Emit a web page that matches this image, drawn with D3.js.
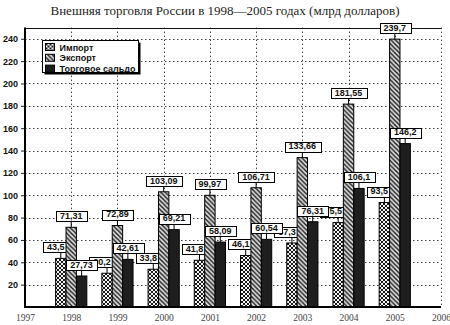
<!DOCTYPE html>
<html>
<head>
<meta charset="utf-8">
<script src="https://cdn.jsdelivr.net/npm/d3@7"></script>
<style>
  html, body { margin: 0; padding: 0; background: #fff; }
  svg { display: block; }
</style>
</head>
<body>
<svg id="chart" width="450" height="325"></svg>
<script>
// Foreign trade of Russia, 1998–2005, billion USD
const years = [1998, 1999, 2000, 2001, 2002, 2003, 2004, 2005];
const importVals = [43.5, 30.2, 33.8, 41.8, 46.1, 57.3, 75.5, 93.5];
const exportVals = [71.31, 72.89, 103.09, 99.97, 106.71, 133.66, 181.55, 239.7];
const saldoVals = [27.73, 42.61, 69.21, 58.09, 60.54, 76.31, 106.1, 146.2];
const seriesNames = ["Импорт", "Экспорт", "Торговое сальдо"];
const yTickValues = [20, 40, 60, 80, 100, 120, 140, 160, 180, 200, 220, 240];
const xTickValues = [1997, 1998, 1999, 2000, 2001, 2002, 2003, 2004, 2005, 2006];
const titleText = "Внешняя торговля России в 1998\u20142005 годах (млрд долларов)";

const svg = d3.select("#chart");
const SANS = "'Liberation Sans', Arial, sans-serif";
const SERIF = "'Liberation Serif', 'Times New Roman', serif";

const plot = { left: 25, right: 441, top: 27.6, bottom: 307 };
const x = d3.scaleLinear().domain([1997, 2006]).range([plot.left, plot.right]);
const y = d3.scaleLinear().domain([0, 250]).range([plot.bottom, plot.top]);
const bw = 10.4;

// fill patterns
const defs = svg.append("defs");
const cross = defs.append("pattern").attr("id", "pCross")
  .attr("patternUnits", "userSpaceOnUse").attr("width", 4).attr("height", 4);
cross.append("rect").attr("width", 4).attr("height", 4).attr("fill", "#f4f4f4");
cross.append("path").attr("d", "M0,0L4,4M4,0L0,4M-1,1L1,-1M3,5L5,3M-1,3L1,5M3,-1L5,1")
  .attr("stroke", "#000").attr("stroke-width", 0.9);

const diag = defs.append("pattern").attr("id", "pDiag")
  .attr("patternUnits", "userSpaceOnUse").attr("width", 4.5).attr("height", 4.5);
diag.append("rect").attr("width", 4.5).attr("height", 4.5).attr("fill", "#dcdcdc");
diag.append("path").attr("d", "M-1,-1L5.5,5.5M-1,3.5L1,5.5M3.5,-1L5.5,1")
  .attr("stroke", "#1a1a1a").attr("stroke-width", 1.4);

const fills = ["url(#pCross)", "url(#pDiag)", "#1e1e1e"];

// title
svg.append("text")
  .attr("x", 225).attr("y", 15)
  .attr("text-anchor", "middle")
  .attr("font-family", SERIF).attr("font-size", 13).attr("fill", "#222")
  .text(titleText);

// grid
const grid = svg.append("g")
  .attr("stroke", "#444").attr("stroke-width", 1).attr("stroke-dasharray", "1.5,2.5");
grid.selectAll("line.h").data(yTickValues).join("line")
  .attr("x1", plot.left).attr("x2", plot.right)
  .attr("y1", d => Math.round(y(d)) + 0.5).attr("y2", d => Math.round(y(d)) + 0.5);
grid.selectAll("line.v").data(xTickValues.slice(1)).join("line")
  .attr("x1", d => Math.round(x(d)) + 0.5).attr("x2", d => Math.round(x(d)) + 0.5)
  .attr("y1", plot.top).attr("y2", plot.bottom);

// frame top
svg.append("line")
  .attr("x1", plot.left).attr("x2", plot.right)
  .attr("y1", Math.round(plot.top) + 0.5).attr("y2", Math.round(plot.top) + 0.5)
  .attr("stroke", "#111").attr("stroke-width", 1);

// y axis
const yAxis = d3.axisLeft(y).tickValues(yTickValues).tickSize(4).tickPadding(3);
const gy = svg.append("g").attr("transform", `translate(${plot.left},0)`).call(yAxis);
gy.select(".domain").remove();
gy.selectAll(".tick line").attr("stroke", "#222");
gy.selectAll(".tick text")
  .attr("font-family", SANS).attr("font-size", 9).attr("font-weight", "bold").attr("fill", "#111");

// x axis
const xAxis = d3.axisBottom(x).tickValues(xTickValues).tickSize(0).tickPadding(7)
  .tickFormat(d3.format("d"));
const gx = svg.append("g").attr("transform", `translate(0,${plot.bottom})`).call(xAxis);
gx.select(".domain").remove();
gx.selectAll(".tick text")
  .attr("font-family", SERIF).attr("font-size", 9.5).attr("fill", "#444");

// bars and value labels, drawn series by series
const series = [importVals, exportVals, saldoVals];
const offsets = [-1.5, -0.5, 0.5];
const labelShift = [-5, 0, 0];
const fmt = v => String(v).replace(".", ",");

series.forEach((vals, si) => {
  const g = svg.append("g");
  const data = years.map((yr, i) => ({ yr, v: vals[i] }));
  g.selectAll("rect.bar").data(data).join("rect")
    .attr("x", d => x(d.yr) + offsets[si] * bw)
    .attr("y", d => y(d.v))
    .attr("width", bw)
    .attr("height", d => y(0) - y(d.v))
    .attr("fill", fills[si])
    .attr("stroke", "#000").attr("stroke-width", 1);

  const lg = g.selectAll("g.lab").data(data).join("g");
  lg.each(function (d) {
    const sel = d3.select(this);
    const bx = x(d.yr) + (offsets[si] + 0.5) * bw;
    const top = y(d.v);
    const cx = bx + labelShift[si];
    sel.append("line")
      .attr("x1", bx).attr("x2", bx)
      .attr("y1", top).attr("y2", top - 6)
      .attr("stroke", "#000").attr("stroke-width", 1);
    const r = sel.append("rect");
    const t = sel.append("text")
      .attr("x", cx).attr("y", top - 8.2)
      .attr("text-anchor", "middle")
      .attr("font-family", SANS).attr("font-size", 9).attr("font-weight", "bold")
      .attr("fill", "#111")
      .text(fmt(d.v));
    const w = t.node().getComputedTextLength() + 8;
    r.attr("x", Math.round(cx - w / 2) + 0.5).attr("y", Math.round(top - 16) + 0.5)
      .attr("width", Math.round(w)).attr("height", 10)
      .attr("fill", "#fff").attr("stroke", "#000").attr("stroke-width", 1);
  });
});

// axis lines
svg.append("line")
  .attr("x1", plot.left).attr("x2", plot.left)
  .attr("y1", plot.top).attr("y2", plot.bottom + 1)
  .attr("stroke", "#000").attr("stroke-width", 2);
svg.append("line")
  .attr("x1", plot.left - 1).attr("x2", plot.right)
  .attr("y1", plot.bottom).attr("y2", plot.bottom)
  .attr("stroke", "#000").attr("stroke-width", 2);

// legend
const leg = svg.append("g").attr("transform", "translate(42.5,40.5)");
leg.append("rect").attr("x", 2).attr("y", 2).attr("width", 96).attr("height", 32).attr("fill", "#000");
leg.append("rect").attr("width", 96).attr("height", 32).attr("fill", "#fff")
  .attr("stroke", "#000").attr("stroke-width", 1);
seriesNames.forEach((name, i) => {
  const ry = 3 + i * 10.8;
  leg.append("rect").attr("x", 3).attr("y", ry).attr("width", 9).attr("height", 7)
    .attr("fill", fills[i]).attr("stroke", "#000").attr("stroke-width", 1);
  leg.append("text").attr("x", 17).attr("y", ry + 7)
    .attr("font-family", SANS).attr("font-size", 9).attr("font-weight", "bold").attr("fill", "#111")
    .text(name);
});
</script>
</body>
</html>
